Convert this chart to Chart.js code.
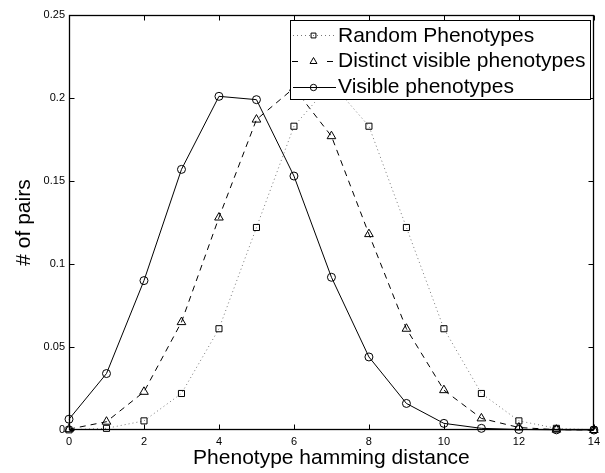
<!DOCTYPE html>
<html>
<head>
<meta charset="utf-8">
<script src="https://cdn.jsdelivr.net/npm/chart.js@4/dist/chart.umd.min.js"></script>
<style>
  html, body { margin: 0; padding: 0; background: #fff; }
  #wrap { width: 605px; height: 473px; }
</style>
</head>
<body>
<div id="wrap"><canvas id="c" width="605" height="473"></canvas></div>
<script>
const distances = [0,1,2,3,4,5,6,7,8,9,10,11,12,13,14];
const randomPhenotypes = [0.0001,0.001,0.0055,0.022,0.061,0.122,0.183,0.209,0.183,0.122,0.061,0.022,0.0055,0.001,0.0001];
const distinctVisible = [0.0005,0.005,0.023,0.065,0.128,0.187,0.206,0.177,0.118,0.061,0.024,0.007,0.0015,0.0002,0];
const visiblePhenotypes = [0.0065,0.034,0.090,0.157,0.201,0.199,0.153,0.092,0.044,0.016,0.004,0.001,0.0003,0.0001,0];
const seriesNames = ['Random Phenotypes','Distinct visible phenotypes','Visible phenotypes'];
const xTickValues = [0,2,4,6,8,10,12,14];
const yTickValues = [0,0.05,0.1,0.15,0.2,0.25];
const xTitle = 'Phenotype hamming distance';
const yTitle = '# of pairs';

const FONT = '"Liberation Sans", Arial, sans-serif';
function pts(arr){ return distances.map((d,i)=>({x:d,y:arr[i]})); }

const datasets = [
  { label: seriesNames[0], data: pts(randomPhenotypes), borderColor:'#777', borderWidth:1, borderDash:[1,3],
    pointStyle:'rect', pointRadius:4.3, pointBorderColor:'#000', pointBackgroundColor:'rgba(0,0,0,0)', pointBorderWidth:1, clip:false },
  { label: seriesNames[1], data: pts(distinctVisible), borderColor:'#000', borderWidth:1, borderDash:[6,5],
    pointStyle:'triangle', pointRadius:5, pointBorderColor:'#000', pointBackgroundColor:'rgba(0,0,0,0)', pointBorderWidth:1, clip:false },
  { label: seriesNames[2], data: pts(visiblePhenotypes), borderColor:'#000', borderWidth:1, borderDash:[],
    pointStyle:'circle', pointRadius:4, pointBorderColor:'#000', pointBackgroundColor:'rgba(0,0,0,0)', pointBorderWidth:1, clip:false }
];

const framePlugin = {
  id:'frame',
  afterDatasetsDraw(chart){
    const ctx = chart.ctx, a = chart.chartArea;
    const xs = chart.scales.x, ys = chart.scales.y;
    ctx.save();
    ctx.strokeStyle = '#000'; ctx.lineWidth = 1; ctx.setLineDash([]);
    const L = Math.round(a.left)+0.5, R = Math.round(a.right)-0.5, T = Math.round(a.top)+0.5, B = Math.round(a.bottom)-0.5;
    ctx.beginPath();
    xTickValues.forEach(v=>{
      const px = Math.round(xs.getPixelForValue(v))+0.5;
      ctx.moveTo(px,B); ctx.lineTo(px,B-5);
      ctx.moveTo(px,T); ctx.lineTo(px,T+5);
    });
    yTickValues.forEach(v=>{
      const py = Math.round(ys.getPixelForValue(v))+0.5;
      ctx.moveTo(L,py); ctx.lineTo(L+5,py);
      ctx.moveTo(R,py); ctx.lineTo(R-5,py);
    });
    ctx.stroke();
    ctx.lineWidth = 1.3;
    ctx.strokeRect(L,T,R-L,B-T);
    ctx.restore();
  },
  afterDraw(chart){
    const ctx = chart.ctx;
    const box = {x:290.5, y:20.5, w:300, h:79};
    ctx.save();
    ctx.setLineDash([]);
    ctx.fillStyle = '#fff';
    ctx.fillRect(box.x, box.y, box.w, box.h);
    ctx.strokeStyle = '#000'; ctx.lineWidth = 1;
    ctx.strokeRect(box.x, box.y, box.w, box.h);
    const lineY = [35, 61, 87];
    const baseY = [41.5, 67, 92.5];
    chart.data.datasets.forEach((ds,i)=>{
      const y = lineY[i] + 0.5;
      ctx.save();
      ctx.strokeStyle = ds.borderColor; ctx.lineWidth = ds.borderWidth;
      ctx.beginPath();
      if (i === 1) {
        ctx.setLineDash([]);
        ctx.moveTo(292, y); ctx.lineTo(298, y);
        ctx.moveTo(327, y); ctx.lineTo(333, y);
      } else {
        ctx.setLineDash(ds.borderDash || []);
        ctx.moveTo(293, y); ctx.lineTo(336, y);
      }
      ctx.stroke();
      ctx.setLineDash([]);
      ctx.strokeStyle = ds.pointBorderColor; ctx.fillStyle = 'rgba(0,0,0,0)';
      ctx.lineWidth = 1;
      Chart.helpers.drawPoint(ctx, {pointStyle: ds.pointStyle, radius: ds.pointRadius*0.8, rotation:0, borderWidth:1}, 313.5, y);
      ctx.restore();
      ctx.fillStyle = '#000';
      ctx.font = '21px ' + FONT;
      ctx.textBaseline = 'alphabetic';
      ctx.textAlign = 'left';
      ctx.fillText(ds.label, 338, baseY[i]);
    });
    ctx.restore();
  }
};

new Chart(document.getElementById('c'), {
  type:'line',
  data:{ datasets },
  options:{
    responsive:false,
    animation:false,
    layout:{ padding:{ top:15, right:10, left:0, bottom:0 } },
    plugins:{ legend:{display:false}, tooltip:{enabled:false} },
    scales:{
      x:{
        type:'linear', min:0, max:14,
        afterBuildTicks(s){ s.ticks = xTickValues.map(v=>({value:v})); },
        afterFit(s){ s.height = 43; },
        grid:{ display:false, drawTicks:false }, border:{ display:false },
        ticks:{ color:'#000', font:{ family:FONT, size:11 }, padding:5, maxRotation:0, autoSkip:false,
          callback:(v)=>String(v) },
        title:{ display:true, text:xTitle, color:'#000', font:{ family:FONT, size:21 }, padding:{top:0,bottom:2} }
      },
      y:{
        type:'linear', min:0, max:0.25,
        afterBuildTicks(s){ s.ticks = yTickValues.map(v=>({value:v})); },
        afterFit(s){ s.width = 69; },
        grid:{ display:false, drawTicks:false }, border:{ display:false },
        ticks:{ color:'#000', font:{ family:FONT, size:11 }, padding:4, autoSkip:false,
          callback:(v)=>String(parseFloat(Number(v).toFixed(2))) },
        title:{ display:true, text:yTitle, color:'#000', font:{ family:FONT, size:21 }, padding:{top:12,bottom:0} }
      }
    }
  },
  plugins:[framePlugin]
});
</script>
</body>
</html>
